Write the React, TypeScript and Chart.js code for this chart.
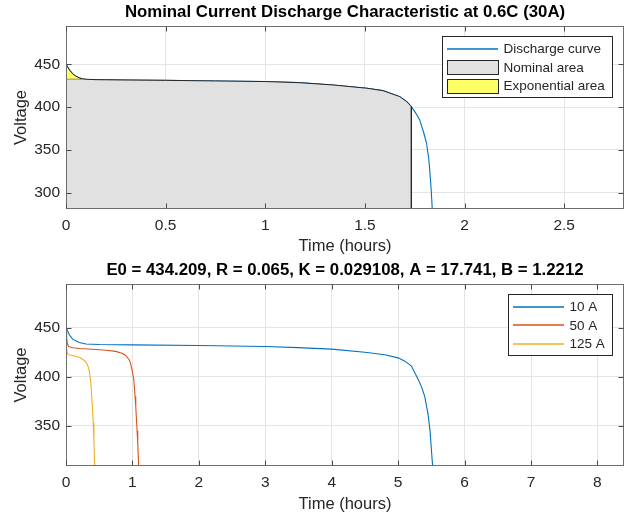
import React, { useEffect, useRef } from "react";
import { Chart, registerables } from "chart.js";

Chart.register(...registerables);

const FONT = "'Liberation Sans', Arial, Helvetica, sans-serif";
const TEXT = "#262626";
const GRID = "#e4e4e4";
const FRAME = "#6e6e6e";

// ---------- Top chart: nominal discharge at 0.6C (30 A) ----------
const dischargeTime = [
  0, 0.01, 0.02, 0.035, 0.05, 0.065, 0.08, 0.1, 0.15, 0.3, 0.5, 0.75, 1.0, 1.17,
  1.34, 1.51, 1.59, 1.675, 1.71, 1.733, 1.755, 1.775, 1.795, 1.809, 1.82, 1.825,
  1.832, 1.838, 1.842,
];
const dischargeVoltage = [
  450, 446, 442.5, 438.5, 436, 434.2, 433.0, 432.5, 432.0, 431.6, 431.2, 430.5,
  429.8, 428.5, 425.8, 422, 419.2, 412.2, 406.3, 400.5, 393, 385, 370, 358, 340,
  327, 305, 281, 270,
];
const expZoneTime = 0.08;
const expZoneVoltage = 433.0;
const nomZoneTime = 1.733;
const topXTicks = [0, 0.5, 1, 1.5, 2, 2.5];
const topYTicks = [300, 350, 400, 450];
const topXRange = [0, 2.8];
const topYRange = [281, 494.7];
const topTitle = "Nominal Current Discharge Characteristic at 0.6C (30A)";

// ---------- Bottom chart: discharge at several currents ----------
const time10A = [
  0, 0.05, 0.1, 0.2, 0.3, 0.5, 1, 2, 3, 3.5, 4, 4.5, 4.8, 5.0, 5.1, 5.2, 5.3,
  5.35, 5.4, 5.45, 5.48, 5.5, 5.52, 5.54,
];
const volt10A = [
  450.5, 443, 438.5, 435, 433.6, 433, 432.7, 432, 431, 429.8, 428.3, 425.2, 422.5,
  419.4, 416, 411, 397.5, 390, 380, 362, 345, 326, 308, 290,
];
const time50A = [
  0, 0.01, 0.02, 0.04, 0.1, 0.2, 0.4, 0.6, 0.75, 0.85, 0.9, 0.95, 0.97, 1.0,
  1.02, 1.04, 1.05, 1.07, 1.08, 1.09, 1.1,
];
const volt50A = [
  446.5, 440, 434, 431, 429.8, 429, 428.2, 427.2, 426, 423.8, 421.8, 417.5, 414.3,
  405, 397.3, 380, 370, 345, 332.7, 315, 300,
];
const time125A = [
  0, 0.005, 0.01, 0.02, 0.04, 0.1, 0.2, 0.25, 0.3, 0.33, 0.35, 0.37, 0.38, 0.4,
  0.41, 0.42, 0.43, 0.44,
];
const volt125A = [
  443, 436, 429, 424, 422.5, 421.8, 420, 418, 415, 411, 406, 396, 388, 366, 353,
  335, 312, 295,
];
const bottomXTicks = [0, 1, 2, 3, 4, 5, 6, 7, 8];
const bottomYTicks = [350, 400, 450];
const bottomXRange = [0, 8.4];
const bottomYRange = [308.9, 494.9];
const bottomTitle =
  "E0 = 434.209, R = 0.065, K = 0.029108, A = 17.741, B = 1.2212";

const seriesLabels = ["10 A", "50 A", "125 A"];
const seriesColors = ["#0072BD", "#D95319", "#EDB120"];

const pts = (xs: number[], ys: number[]) => xs.map((x, i) => ({ x, y: ys[i] }));

type LegendItem = { kind: "line" | "patch"; label: string; color: string };

// frame, inward ticks and boxed legend
function makeDecorPlugin(items: LegendItem[]) {
  return {
    id: "decor",
    afterDraw(chart: any) {
      const ctx = chart.ctx as CanvasRenderingContext2D;
      const ca = chart.chartArea;
      const L = Math.round(ca.left) + 0.5;
      const R = Math.round(ca.right) - 0.5;
      const T = Math.round(ca.top) + 0.5;
      const B = Math.round(ca.bottom) - 0.5;
      ctx.save();
      ctx.strokeStyle = FRAME;
      ctx.lineWidth = 1;
      ctx.strokeRect(L, T, R - L, B - T);
      const tl = 5;
      ctx.strokeStyle = "#4a4a4a";
      ctx.beginPath();
      const xs = chart.scales.x;
      const ys = chart.scales.y;
      for (const t of xs.ticks) {
        const px = Math.round(xs.getPixelForValue(t.value)) + 0.5;
        ctx.moveTo(px, B);
        ctx.lineTo(px, B - tl);
        ctx.moveTo(px, T);
        ctx.lineTo(px, T + tl);
      }
      for (const t of ys.ticks) {
        const py = Math.round(ys.getPixelForValue(t.value)) + 0.5;
        ctx.moveTo(L, py);
        ctx.lineTo(L + tl, py);
        ctx.moveTo(R, py);
        ctx.lineTo(R - tl, py);
      }
      ctx.stroke();

      ctx.font = `13.5px ${FONT}`;
      const tw = Math.max(...items.map((i) => ctx.measureText(i.label).width));
      const w = Math.round(61 + tw + 8);
      const rowH = 18.3;
      const h = Math.round(rowH * items.length + 6);
      const right = Math.round(ca.right - 12);
      const left = right - w;
      const top = Math.round(ca.top + 10);
      ctx.fillStyle = "#ffffff";
      ctx.fillRect(left, top, w, h);
      ctx.strokeStyle = TEXT;
      ctx.lineWidth = 1;
      ctx.strokeRect(left + 0.5, top + 0.5, w, h);
      items.forEach((it, i) => {
        const cy = top + 4 + rowH * (i + 0.5);
        if (it.kind === "line") {
          ctx.beginPath();
          ctx.strokeStyle = it.color;
          ctx.lineWidth = 1.3;
          ctx.moveTo(left + 5, Math.round(cy));
          ctx.lineTo(left + 56, Math.round(cy));
          ctx.stroke();
        } else {
          const y0 = Math.round(cy - 7);
          ctx.fillStyle = it.color;
          ctx.fillRect(left + 5, y0, 51, 14);
          ctx.strokeStyle = TEXT;
          ctx.lineWidth = 1;
          ctx.strokeRect(left + 5.5, y0 + 0.5, 51, 14);
        }
        ctx.fillStyle = TEXT;
        ctx.textAlign = "left";
        ctx.textBaseline = "middle";
        ctx.fillText(it.label, left + 61.5, cy + 0.5);
      });
      ctx.restore();
    },
  };
}

function makeOptions(
  title: string,
  xRange: number[],
  yRange: number[],
  xTicks: number[],
  yTicks: number[],
  xAxisH: number
) {
  return {
    responsive: false,
    animation: false as const,
    devicePixelRatio: 1,
    layout: { padding: { left: 0, right: 3, top: 0, bottom: 0 } },
    elements: { point: { radius: 0 }, line: { tension: 0 } },
    plugins: {
      legend: { display: false },
      tooltip: { enabled: false },
      title: {
        display: true,
        fullSize: false,
        text: title,
        color: "#000000",
        font: { family: FONT, size: 16.8, weight: "bold", lineHeight: 1.2 },
        padding: { top: 2.4, bottom: 3.4 },
      },
    },
    scales: {
      x: {
        type: "linear",
        min: xRange[0],
        max: xRange[1],
        afterBuildTicks: (s: any) => {
          s.ticks = xTicks.map((v) => ({ value: v }));
        },
        afterFit: (s: any) => {
          s.height = xAxisH;
        },
        grid: { color: GRID, drawTicks: false, lineWidth: 1 },
        border: { display: false },
        ticks: {
          color: TEXT,
          font: { family: FONT, size: 15.5, lineHeight: 1.2 },
          padding: 7.7,
          maxRotation: 0,
          callback: (v: any) => String(v),
        },
        title: {
          display: true,
          text: "Time (hours)",
          color: TEXT,
          font: { family: FONT, size: 16.5, lineHeight: 1.2 },
          padding: { top: 0, bottom: 2 },
        },
      },
      y: {
        type: "linear",
        min: yRange[0],
        max: yRange[1],
        afterBuildTicks: (s: any) => {
          s.ticks = yTicks.map((v) => ({ value: v }));
        },
        afterFit: (s: any) => {
          s.width = 66;
        },
        grid: { color: GRID, drawTicks: false, lineWidth: 1 },
        border: { display: false },
        ticks: {
          color: TEXT,
          font: { family: FONT, size: 15.5, lineHeight: 1.2 },
          padding: 6,
          callback: (v: any) => String(v),
        },
        title: {
          display: true,
          text: "Voltage",
          color: TEXT,
          font: { family: FONT, size: 16.5, lineHeight: 1.2 },
          padding: { top: 12, bottom: 0 },
        },
      },
    },
  };
}

function TopChart() {
  const ref = useRef<HTMLCanvasElement | null>(null);
  useEffect(() => {
    if (!ref.current) return;
    const curve = pts(dischargeTime, dischargeVoltage);
    const nominal = [
      { x: 0, y: expZoneVoltage },
      ...curve.filter((p) => p.x >= expZoneTime && p.x <= nomZoneTime),
      { x: nomZoneTime, y: topYRange[0] },
    ];
    const exponential = curve.filter((p) => p.x <= expZoneTime);
    const chart = new Chart(ref.current, {
      type: "line",
      data: {
        datasets: [
          {
            label: "Exponential area",
            data: exponential,
            borderColor: TEXT,
            borderWidth: 1,
            backgroundColor: "#ffff66",
            fill: { value: expZoneVoltage },
            order: 1,
          },
          {
            label: "Nominal area",
            data: nominal,
            borderColor: TEXT,
            borderWidth: 1,
            backgroundColor: "#e1e1e1",
            fill: "start",
            order: 2,
          },
          {
            label: "Discharge curve",
            data: curve,
            borderColor: "#0072BD",
            borderWidth: 1.1,
            fill: false,
            order: 3,
          },
        ],
      },
      options: makeOptions(topTitle, topXRange, topYRange, topXTicks, topYTicks, 49) as any,
      plugins: [
        makeDecorPlugin([
          { kind: "line", label: "Discharge curve", color: "#0072BD" },
          { kind: "patch", label: "Nominal area", color: "#e1e1e1" },
          { kind: "patch", label: "Exponential area", color: "#ffff66" },
        ]),
      ],
    });
    return () => chart.destroy();
  }, []);
  return <canvas ref={ref} width={627} height={258} style={{ display: "block" }} />;
}

function BottomChart() {
  const ref = useRef<HTMLCanvasElement | null>(null);
  useEffect(() => {
    if (!ref.current) return;
    const series = [
      pts(time10A, volt10A),
      pts(time50A, volt50A),
      pts(time125A, volt125A),
    ];
    const chart = new Chart(ref.current, {
      type: "line",
      data: {
        datasets: series.map((d, i) => ({
          label: seriesLabels[i],
          data: d,
          borderColor: seriesColors[i],
          borderWidth: 1.1,
          fill: false,
          order: 3 - i,
        })),
      },
      options: makeOptions(
        bottomTitle,
        bottomXRange,
        bottomYRange,
        bottomXTicks,
        bottomYTicks,
        50
      ) as any,
      plugins: [
        makeDecorPlugin(
          seriesLabels.map((l, i) => ({ kind: "line" as const, label: l, color: seriesColors[i] }))
        ),
      ],
    });
    return () => chart.destroy();
  }, []);
  return <canvas ref={ref} width={627} height={258} style={{ display: "block" }} />;
}

export default function App() {
  return (
    <div
      style={{
        position: "absolute",
        left: 0,
        top: 0,
        width: 627,
        height: 516,
        background: "#ffffff",
      }}
    >
      <TopChart />
      <BottomChart />
    </div>
  );
}
